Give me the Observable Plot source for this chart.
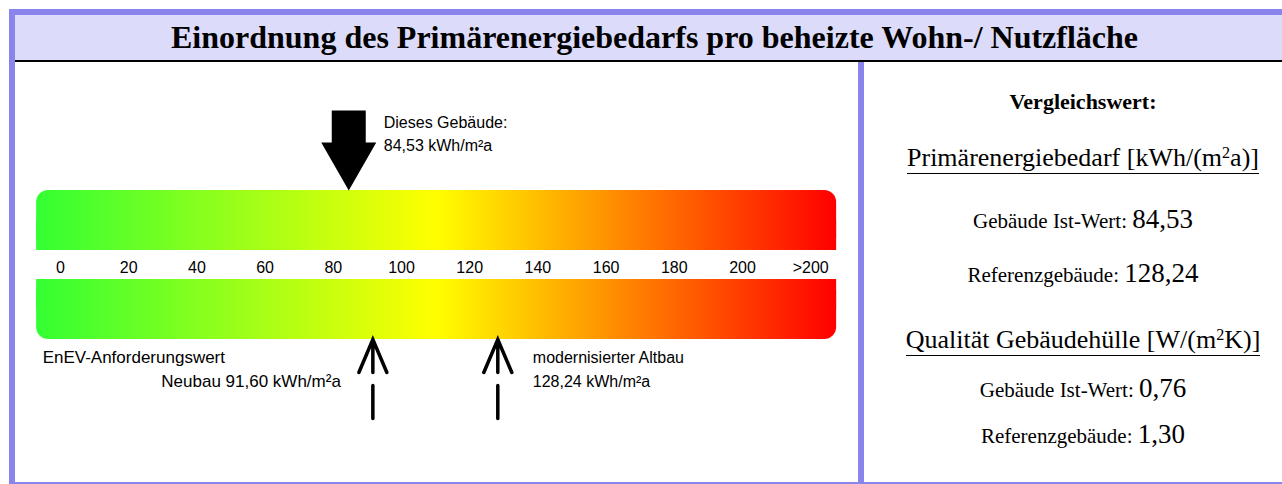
<!DOCTYPE html>
<html><head><meta charset="utf-8">
<script src="https://cdn.jsdelivr.net/npm/d3@7"></script>
<script src="https://cdn.jsdelivr.net/npm/@observablehq/plot@0.6"></script>
<style>
html,body{margin:0;padding:0;background:#fff;overflow:hidden;width:1282px;height:484px;}
#frame{position:absolute;left:9px;top:9px;width:1291px;height:479px;border:6px solid #8985ec;box-sizing:border-box;background:#fff;}
#title{position:absolute;left:0;top:0;right:0;height:45px;background:#dcdbf9;border-bottom:2px solid #000;font:bold 32px "Liberation Serif","Times New Roman",serif;text-align:center;line-height:45px;color:#000;white-space:nowrap;}
#divider{position:absolute;left:843px;top:47px;width:6px;bottom:0;background:#8985ec;}
#chart{position:absolute;left:0;top:47px;}
#panel{position:absolute;left:849px;top:47px;width:468px;bottom:0;font-family:"Liberation Serif","Times New Roman",serif;color:#000;}
.ln{position:absolute;left:0;width:438px;height:40px;line-height:40px;text-align:center;white-space:nowrap;}
.h0{font-weight:bold;font-size:22px;}
.h1{font-size:26px;}
.ul{display:inline-block;line-height:1;border-bottom:1.5px solid #000;padding-bottom:2px;}
.lb{font-size:21px;}
.vl{font-size:27px;}
sup{font-size:0.62em;line-height:0;vertical-align:0.5em;}
</style>
</head><body>
<div id="frame">
  <div id="title"></div>
  <div id="chart"></div>
  <div id="divider"></div>
  <div id="panel"></div>
</div>
<script>
// ---------- data ----------
const titleText = "Einordnung des Primärenergiebedarfs pro beheizte Wohn-/ Nutzfläche";
const tickValues = [0, 20, 40, 60, 80, 100, 120, 140, 160, 180, 200, 220];
const tickLabels = ["0", "20", "40", "60", "80", "100", "120", "140", "160", "180", "200", ">200"];
const scaleExtent = [-7, 227.6];             // colored band extent (kWh/m²a)
const gradientStops = ["#33ff33", "#ffff00", "#ff0000"];
const thisBuildingLabel = "Dieses Gebäude:";
const thisBuildingValue = 84.53;
const refNames = ["EnEV-Anforderungswert", "modernisierter Altbau"];
const refPrefixes = ["Neubau ", ""];
const refValues = [91.60, 128.24];
const unit = "kWh/m²a";
const panelHeading = "Vergleichswert:";
const primaryHeading = "Primärenergiebedarf [kWh/(m<sup>2</sup>a)]";
const envelopeHeading = "Qualität Gebäudehülle [W/(m<sup>2</sup>K)]";
const primaryValues = [84.53, 128.24];
const envelopeValues = [0.76, 1.30];
const rowLabels = ["Gebäude Ist-Wert: ", "Referenzgebäude: "];

const fmt = v => v.toFixed(2).replace(".", ",");

// ---------- layout (pixels) ----------
const W = 843, H = 420;
const L = {upper: [128, 188], lower: [217, 277], tickY: 205, aboveY: [60, 83], belowY: [295, 319], radius: 12};

document.getElementById("title").textContent = titleText;

// custom symbols
const blockArrowDown = {draw(c) {
  c.moveTo(-17, -80); c.lineTo(17, -80); c.lineTo(17, -48); c.lineTo(27.5, -48);
  c.lineTo(0, 0); c.lineTo(-27.5, -48); c.lineTo(-17, -48); c.closePath();
}};
const openArrowUp = {draw(c) {
  c.moveTo(-14, 33); c.lineTo(0, 0); c.lineTo(14, 33);
  c.moveTo(0, 0); c.lineTo(0, 33);
  c.moveTo(0, 46); c.lineTo(0, 79);
}};

const grad = "url(#enevGrad)";
const band = (y1, y2) => Plot.rect([0], {x1: () => scaleExtent[0], x2: () => scaleExtent[1], y1: () => y1, y2: () => y2, fill: grad, rx: L.radius});
const patch = (y1, y2) => Plot.rect([0], {x1: () => scaleExtent[0], x2: () => scaleExtent[1], y1: () => y1, y2: () => y2, fill: grad});

const plot = Plot.plot({
  width: W, height: H, margin: 0,
  x: {domain: [0, 220], range: [45, 795.2], axis: null},
  y: {domain: [0, H], range: [0, H], axis: null},
  style: {fontFamily: "'Liberation Sans', Arial, sans-serif", fontSize: "16px", background: "transparent", overflow: "visible", color: "#000"},
  marks: [
    band(L.upper[0], L.upper[1]),
    patch((L.upper[0] + L.upper[1]) / 2, L.upper[1]),
    band(L.lower[0], L.lower[1]),
    patch(L.lower[0], (L.lower[0] + L.lower[1]) / 2),
    Plot.text(tickValues, {x: d => d, y: () => L.tickY, text: (d, i) => tickLabels[i], fill: "#000", fontSize: 16}),
    // this building
    Plot.dot([thisBuildingValue], {x: d => d, y: () => L.upper[0], symbol: blockArrowDown, r: 10, fill: "#000", stroke: "none"}),
    Plot.text([thisBuildingValue], {x: d => d, y: () => L.aboveY[0], dx: 35, text: () => thisBuildingLabel, textAnchor: "start", fill: "#000", fontSize: 16}),
    Plot.text([thisBuildingValue], {x: d => d, y: () => L.aboveY[1], dx: 35, text: d => `${fmt(d)} ${unit}`, textAnchor: "start", fill: "#000", fontSize: 16}),
    // reference arrows
    Plot.dot(refValues, {x: d => d, y: () => L.lower[1], symbol: openArrowUp, r: 10, fill: "none", stroke: "#000", strokeWidth: 3.5, strokeLinecap: "round", strokeLinejoin: "miter"}),
    Plot.text([refNames[0]], {x: () => scaleExtent[0], y: () => L.belowY[0], dx: 6, text: d => d, textAnchor: "start", fill: "#000", fontSize: 17}),
    Plot.text([refValues[0]], {x: d => d, y: () => L.belowY[1], dx: -32, text: d => `${refPrefixes[0]}${fmt(d)} ${unit}`, textAnchor: "end", fill: "#000", fontSize: 17}),
    Plot.text([refValues[1]], {x: d => d, y: () => L.belowY[0], dx: 35, text: () => refNames[1], textAnchor: "start", fill: "#000", fontSize: 16}),
    Plot.text([refValues[1]], {x: d => d, y: () => L.belowY[1], dx: 35, text: d => `${refPrefixes[1]}${fmt(d)} ${unit}`, textAnchor: "start", fill: "#000", fontSize: 16})
  ]
});

// gradient definition
const svg = d3.select(plot);
const lg = svg.insert("defs", ":first-child").append("linearGradient")
  .attr("id", "enevGrad").attr("x1", "0").attr("x2", "1").attr("y1", "0").attr("y2", "0");
gradientStops.forEach((c, i) => lg.append("stop").attr("offset", i / (gradientStops.length - 1)).attr("stop-color", c));
document.getElementById("chart").appendChild(plot);

// right panel
const panel = document.getElementById("panel");
const lines = [
  {c: 102, cls: "h0", html: panelHeading},
  {c: 158, cls: "h1", html: `<span class="ul">${primaryHeading}</span>`},
  {c: 219, cls: "", html: `<span class="lb">${rowLabels[0]}</span><span class="vl">${fmt(primaryValues[0])}</span>`},
  {c: 273, cls: "", html: `<span class="lb">${rowLabels[1]}</span><span class="vl">${fmt(primaryValues[1])}</span>`},
  {c: 340, cls: "h1", html: `<span class="ul">${envelopeHeading}</span>`},
  {c: 388, cls: "", html: `<span class="lb">${rowLabels[0]}</span><span class="vl">${fmt(envelopeValues[0])}</span>`},
  {c: 434, cls: "", html: `<span class="lb">${rowLabels[1]}</span><span class="vl">${fmt(envelopeValues[1])}</span>`}
];
lines.forEach(l => {
  const d = document.createElement("div");
  d.className = "ln " + l.cls;
  d.style.top = (l.c - 62 - 20) + "px";
  d.innerHTML = l.html;
  panel.appendChild(d);
});
</script>
</body></html>
